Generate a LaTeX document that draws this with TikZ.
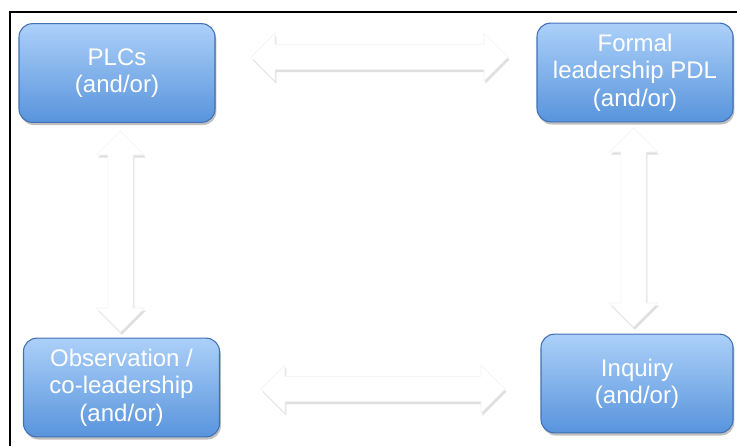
\documentclass[tikz,border=0pt]{standalone}
\usepackage{fontspec}
\setmainfont{Liberation Sans}
\usetikzlibrary{calc,shadows}
\definecolor{boxtop}{RGB}{172,208,249}
\definecolor{boxbot}{RGB}{88,148,220}
\definecolor{boxline}{RGB}{66,112,180}
\newcommand\dblarrow[2]{%
	\path (#1) coordinate (da-a) (#2) coordinate (da-b)
		($(da-a)!18pt!(da-b)$) coordinate (da-h1)
		($(da-b)!18pt!(da-a)$) coordinate (da-h2);
	\filldraw[block arrow] (da-a)
		-- ($(da-h1)!18pt!90:(da-b)$) -- ($(da-h1)!9.4pt!90:(da-b)$)
		-- ($(da-h2)!9.4pt!-90:(da-a)$) -- ($(da-h2)!18pt!-90:(da-a)$)
		-- (da-b)
		-- ($(da-h2)!18pt!90:(da-a)$) -- ($(da-h2)!9.4pt!90:(da-a)$)
		-- ($(da-h1)!9.4pt!-90:(da-b)$) -- ($(da-h1)!18pt!-90:(da-b)$)
		-- cycle;}

\begin{document}
\begin{tikzpicture}[x=0.75pt, y=-0.75pt,
	blue box/.style={rounded corners=10pt, draw=boxline, line width=0.8pt,
		top color=boxtop, bottom color=boxbot, minimum width=147pt, minimum height=74pt,
		align=center, text=white, font=\fontsize{18}{20.5}\selectfont,
		drop shadow={shadow xshift=1pt, shadow yshift=-2pt, opacity=0.5}},
	block arrow/.style={fill=white, draw=black!5, line width=0.4pt,
		drop shadow={shadow xshift=1pt, shadow yshift=-2pt, opacity=0.25}}]
			%%%%% START %%%%%
			
			\useasboundingbox (0, 0) rectangle (737, 446);
			\draw[line width=1.5pt] (10, 446) -- (10, 12) -- (737, 12);
			
			\node[blue box] (plc) at (117, 73) {PLCs\\(and/or)};
			\node[blue box] (pdl) at (635, 72.5) {Formal\\leadership PDL\\(and/or)};
			\node[blue box] (obs) at (121.5, 387.5) {Observation /\\co-leadership\\(and/or)};
			\node[blue box, minimum width=144pt] (inq) at (637, 383.5) {Inquiry\\(and/or)};
			
			\coordinate (top-l) at (251, 57);
			\coordinate (top-r) at (508, 57);
			\coordinate (bot-l) at (261, 389);
			\coordinate (bot-r) at (505, 389);
			\coordinate (lft-t) at (120.5, 131);
			\coordinate (lft-b) at (120.5, 332);
			\coordinate (rgt-t) at (633.5, 128);
			\coordinate (rgt-b) at (633.5, 327);
			
			\dblarrow{top-l}{top-r}
			\dblarrow{bot-l}{bot-r}
			\dblarrow{lft-t}{lft-b}
			\dblarrow{rgt-t}{rgt-b}
			
			%%%%% END %%%%%
\end{tikzpicture}
\end{document}
